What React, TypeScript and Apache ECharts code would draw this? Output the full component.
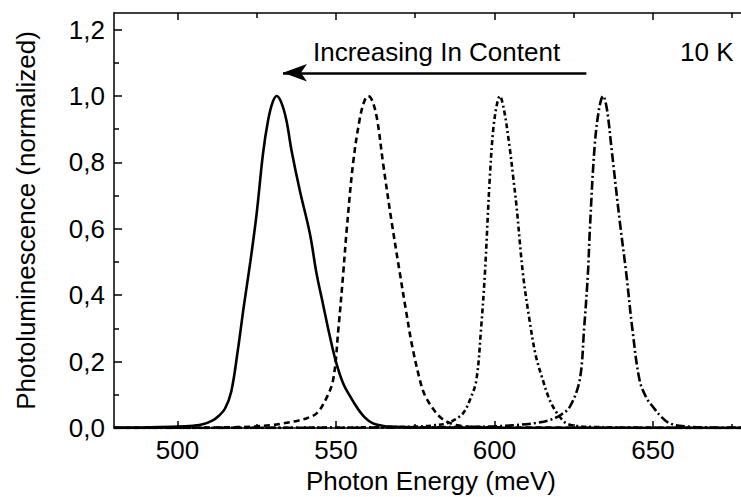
import React, { useEffect, useRef } from "react";
import * as echarts from "echarts";

// Photon energy (meV) / normalized PL intensity
const solidX = [480, 490, 500, 505, 508, 511, 513, 515, 517, 519, 521, 523, 525, 527, 528.6, 530, 531.3, 532.8, 534.4, 536, 538.6, 541.8, 543.9, 546, 548, 550, 552.3, 554.5, 556.5, 559, 561.7, 565, 567, 575, 600, 680];
const solidY = [0.001, 0.002, 0.004, 0.007, 0.011, 0.022, 0.036, 0.058, 0.11, 0.23, 0.37, 0.5, 0.646, 0.826, 0.926, 0.98, 1.0, 0.98, 0.926, 0.836, 0.716, 0.585, 0.465, 0.37, 0.28, 0.2, 0.134, 0.095, 0.064, 0.033, 0.014, 0.006, 0.004, 0.002, 0.001, 0.0];

const dashX = [480, 500, 515, 523, 530, 533.4, 538, 541, 543.9, 546.5, 549.1, 550.8, 552.3, 553.4, 555.4, 557.5, 559, 560.2, 561.5, 563, 564.9, 567.5, 570.2, 572, 574, 576.5, 578, 580.2, 582.5, 585, 588, 592, 600, 620, 680];
const dashY = [0, 0.001, 0.002, 0.004, 0.009, 0.014, 0.022, 0.03, 0.044, 0.08, 0.144, 0.3, 0.465, 0.596, 0.796, 0.93, 0.985, 1.0, 0.985, 0.93, 0.796, 0.626, 0.465, 0.36, 0.25, 0.144, 0.1, 0.064, 0.036, 0.019, 0.009, 0.004, 0.002, 0.001, 0];

const dashDotShortX = [480, 540, 560, 575, 580, 584.9, 587.5, 590.1, 592.3, 594.3, 595.8, 597, 598.5, 599.6, 600.7, 601.7, 603, 604.8, 606, 607, 609, 611, 613, 615.3, 617, 618.5, 620.5, 622.7, 626, 632, 645, 680];
const dashDotShortY = [0, 0.001, 0.002, 0.004, 0.007, 0.014, 0.025, 0.044, 0.085, 0.144, 0.3, 0.465, 0.746, 0.896, 0.97, 1.0, 0.96, 0.846, 0.75, 0.666, 0.465, 0.33, 0.22, 0.144, 0.095, 0.064, 0.035, 0.014, 0.006, 0.003, 0.001, 0];

const dashDotX = [480, 560, 590, 600, 607, 613, 617.5, 621, 623.8, 626.9, 628.3, 629.5, 630.1, 631.6, 633, 634.3, 635.5, 636.9, 639.5, 641.6, 643.5, 645.8, 648, 650, 652.5, 655.3, 660, 668, 680];
const dashDotY = [0, 0.001, 0.003, 0.005, 0.009, 0.015, 0.024, 0.04, 0.064, 0.144, 0.3, 0.465, 0.596, 0.846, 0.96, 1.0, 0.96, 0.846, 0.626, 0.465, 0.3, 0.144, 0.09, 0.064, 0.035, 0.014, 0.005, 0.002, 0.001];

const xMajorTicks = [500, 550, 600, 650];
const xMinorTicks = [525, 575, 625, 675];
const yMajorTicks = [0, 0.2, 0.4, 0.6, 0.8, 1.0, 1.2];
const yMinorTicks = [0.1, 0.3, 0.5, 0.7, 0.9, 1.1];

const arrowStartX = 629;
const arrowEndX = 533.3;
const arrowY = 1.07;

const xTitle = "Photon Energy (meV)";
const yTitle = "Photoluminescence (normalized)";
const annotation = "Increasing In Content";
const tempLabel = "10 K";

const FONT = "'Liberation Sans', Arial, sans-serif";
const FS = 26;

function zip(xs: number[], ys: number[]) {
  return xs.map((x, i) => [x, ys[i]]);
}

export default function App() {
  const ref = useRef<HTMLDivElement>(null);
  useEffect(() => {
    if (!ref.current) return;
    const chart = echarts.init(ref.current, null, { renderer: "svg" });
    const axisLine = { show: true, onZero: false, lineStyle: { color: "#000", width: 1.5 } };
    const noLine = { show: false, onZero: false };
    const xCommon = { type: "value", min: 480, max: 680, splitLine: { show: false } };
    const yCommon = { type: "value", min: 0, max: 1.25, splitLine: { show: false } };
    const lineBase = { type: "line", showSymbol: false, smooth: 0.35, xAxisIndex: 0, yAxisIndex: 0, silent: true };
    chart.setOption({
      animation: false,
      backgroundColor: "#fff",
      grid: { left: 114, top: 13, width: 634, height: 415, containLabel: false, outerBoundsMode: "none" },
      xAxis: [
        {
          ...xCommon,
          position: "bottom",
          axisLine,
          axisTick: { show: true, inside: true, length: 7, customValues: xMajorTicks, lineStyle: { color: "#000", width: 1.5 } },
          axisLabel: { show: true, customValues: xMajorTicks, margin: 9, color: "#000", fontSize: FS, fontFamily: FONT },
          name: xTitle,
          nameLocation: "middle",
          nameGap: 39,
          nameTextStyle: { color: "#000", fontSize: FS, fontFamily: FONT },
        },
        {
          ...xCommon,
          position: "bottom",
          axisLine: noLine,
          axisTick: { show: true, inside: true, length: 4, customValues: xMinorTicks, lineStyle: { color: "#000", width: 1.5 } },
          axisLabel: { show: false },
        },
        {
          ...xCommon,
          position: "top",
          axisLine,
          axisTick: { show: true, inside: true, length: 7, customValues: xMajorTicks, lineStyle: { color: "#000", width: 1.5 } },
          axisLabel: { show: false },
        },
        {
          ...xCommon,
          position: "top",
          axisLine: noLine,
          axisTick: { show: true, inside: true, length: 5, customValues: xMinorTicks, lineStyle: { color: "#000", width: 1.5 } },
          axisLabel: { show: false },
        },
      ],
      yAxis: [
        {
          ...yCommon,
          position: "left",
          axisLine,
          axisTick: { show: true, inside: true, length: 8, customValues: yMajorTicks, lineStyle: { color: "#000", width: 1.5 } },
          axisLabel: {
            show: true,
            customValues: yMajorTicks,
            margin: 9,
            color: "#000",
            fontSize: FS,
            fontFamily: FONT,
            formatter: (v: number) => v.toFixed(1).replace(".", ","),
          },
          name: yTitle,
          nameLocation: "middle",
          nameGap: 75,
          nameTextStyle: { color: "#000", fontSize: FS, fontFamily: FONT },
        },
        {
          ...yCommon,
          position: "left",
          axisLine: noLine,
          axisTick: { show: true, inside: true, length: 5, customValues: yMinorTicks, lineStyle: { color: "#000", width: 1.5 } },
          axisLabel: { show: false },
        },
      ],
      series: [
        {
          ...lineBase,
          name: "solid",
          data: zip(solidX, solidY),
          lineStyle: { color: "#000", width: 2.6, type: "solid" },
          z: 4,
          markLine: {
            silent: true,
            symbol: ["none", "arrow"],
            symbolSize: [13, 24],
            label: { show: false },
            lineStyle: { color: "#000", width: 2.5, type: "solid" },
            data: [[{ coord: [arrowStartX, arrowY] }, { coord: [arrowEndX, arrowY] }]],
          },
        },
        {
          ...lineBase,
          name: "dashed",
          data: zip(dashX, dashY),
          lineStyle: { color: "#000", width: 2.6, type: [6, 4] },
        },
        {
          ...lineBase,
          name: "dashdot-short",
          data: zip(dashDotShortX, dashDotShortY),
          lineStyle: { color: "#000", width: 2.6, type: [5, 3, 2, 3] },
        },
        {
          ...lineBase,
          name: "dashdot",
          data: zip(dashDotX, dashDotY),
          lineStyle: { color: "#000", width: 2.6, type: [9, 3, 2, 3] },
        },
      ],
      graphic: [
        {
          type: "text",
          left: 313,
          top: 39,
          silent: true,
          style: { text: annotation, fill: "#000", font: `${FS}px ${FONT}` },
        },
        {
          type: "text",
          left: 680,
          top: 39,
          silent: true,
          style: { text: tempLabel, fill: "#000", font: `${FS}px ${FONT}` },
        },
      ],
    });
    return () => chart.dispose();
  }, []);
  return (
    <div style={{ position: "fixed", left: 0, top: 0, width: 741, height: 497, overflow: "hidden", background: "#fff" }}>
      <div ref={ref} style={{ width: 760, height: 497 }} />
    </div>
  );
}
